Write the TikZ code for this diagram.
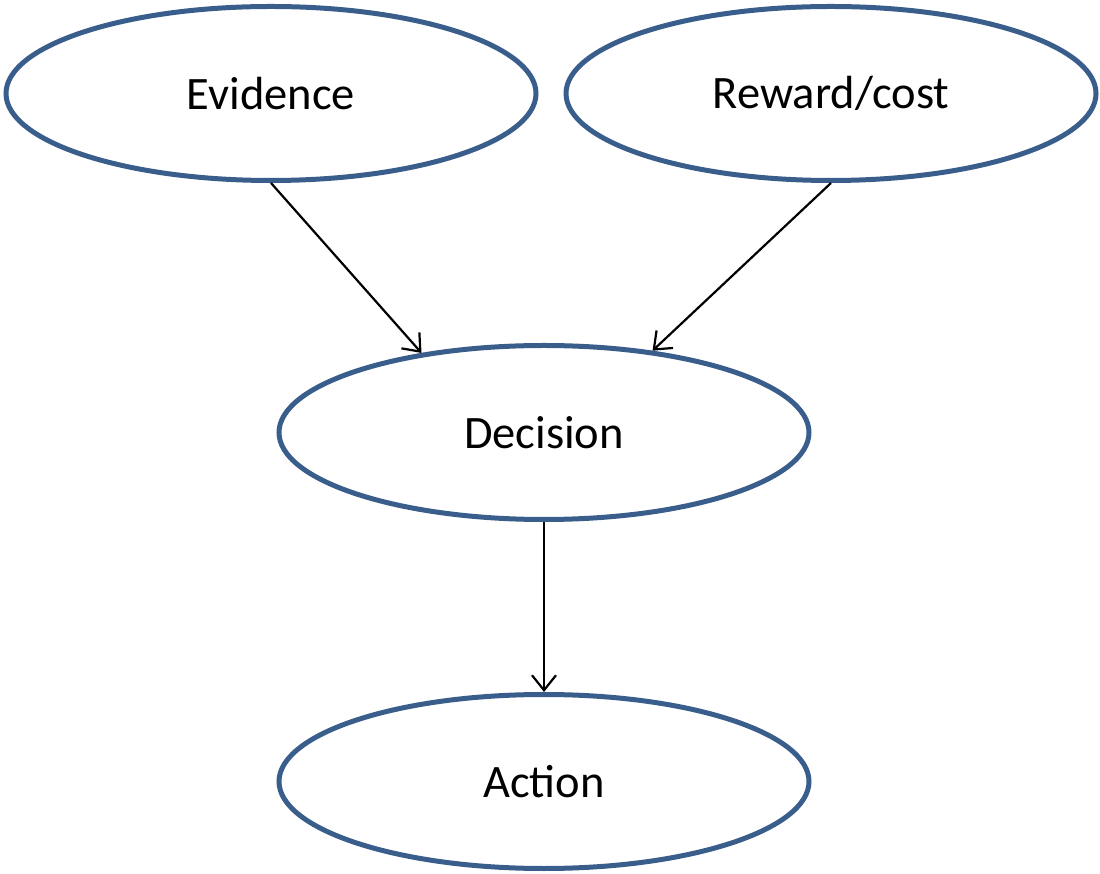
\documentclass[tikz,border=0pt]{standalone}
\usepackage{fontspec}
\setmainfont{Carlito}
\usetikzlibrary{shapes.geometric,arrows.meta}
\definecolor{ringblue}{RGB}{58,94,140}
\tikzset{
  stage/.style={ellipse, draw=ringblue, line width=5pt, minimum width=530pt,
    minimum height=174pt, inner sep=0pt, font=\fontsize{46.5}{56}\selectfont},
  link/.style={line width=2.2pt, -{Straight Barb[length=15pt,width=24pt]}}
}
\begin{document}
\begin{tikzpicture}[x=1pt,y=1pt]
  \useasboundingbox (0,0) rectangle (1100,873);
  \node[stage] (evidence) at (271,779.5) {Evidence};
  \node[stage] (reward)   at (831,779.5) {Reward/cost};
  \node[stage] (decision) at (544,440.5) {Decision};
  \node[stage] (action)   at (544,91.5)  {Action};
  \draw[link] (evidence.south) -- (decision.147.5);
  \draw[link] (reward.south) -- (decision.37.6);
  \draw[link] (decision.south) -- (action.north);
\end{tikzpicture}
\end{document}
